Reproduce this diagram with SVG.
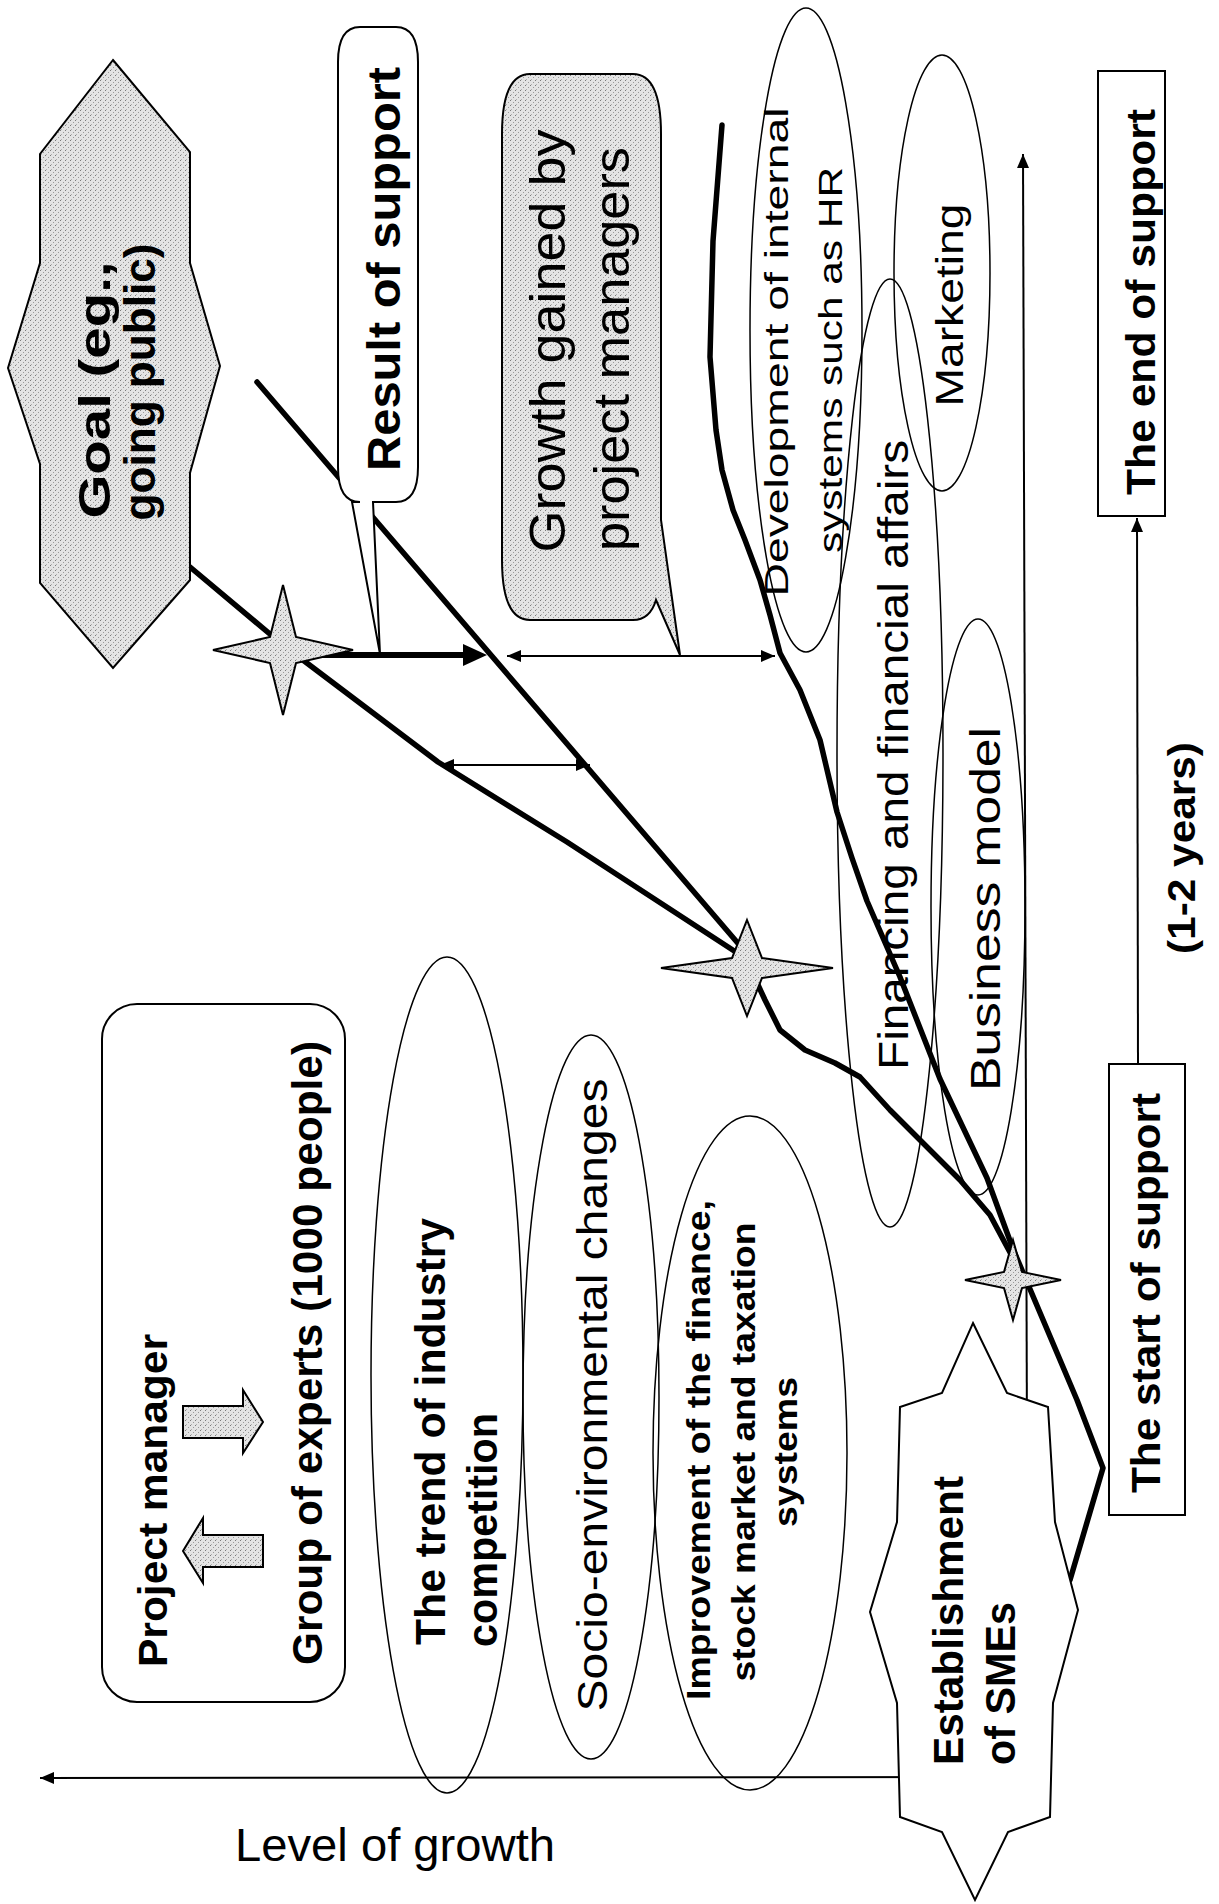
<svg xmlns="http://www.w3.org/2000/svg" width="1219" height="1904" viewBox="0 0 1219 1904">
<style>
.b{font-family:"Liberation Sans",Arial,sans-serif;font-weight:bold;fill:#000}
.r{font-family:"Liberation Sans",Arial,sans-serif;font-weight:normal;fill:#000}
.ell{fill:none;stroke:#000;stroke-width:1.5}
.box{fill:#fff;stroke:#000;stroke-width:2}
.gray{fill:url(#dots);stroke:#000;stroke-width:2}
.thick{fill:none;stroke:#000;stroke-width:5.5;stroke-linejoin:round;stroke-linecap:round}
.thin{fill:none;stroke:#000;stroke-width:2}
</style>
<defs>
<pattern id="dots" width="5" height="5" patternUnits="userSpaceOnUse">
<rect width="5" height="5" fill="#e4e4e4"/>
<rect x="0" y="0" width="1" height="1" fill="#7a7a7a"/>
<rect x="3" y="2" width="1" height="1" fill="#999"/>
<rect x="1" y="4" width="1" height="1" fill="#b0b0b0"/>
</pattern>
<marker id="ah" viewBox="0 0 14 12" refX="14" refY="6" markerWidth="14" markerHeight="12" markerUnits="userSpaceOnUse" orient="auto-start-reverse">
<path d="M0,0 L14,6 L0,12 Z" fill="#000"/>
</marker>
<marker id="ahT" viewBox="0 0 24 22" refX="1" refY="11" markerWidth="24" markerHeight="22" markerUnits="userSpaceOnUse" orient="auto">
<path d="M0,0 L24,11 L0,22 Z" fill="#000"/>
</marker>
</defs>
<rect width="1219" height="1904" fill="#fff"/>

<g id="node-trend">
<ellipse class="ell" cx="447" cy="1375" rx="76" ry="418"/>
<text class="b" font-size="42" transform="translate(445,1645) rotate(-90)" textLength="427" lengthAdjust="spacingAndGlyphs">The trend of industry</text>
<text class="b" font-size="42" transform="translate(497,1647) rotate(-90)" textLength="234" lengthAdjust="spacingAndGlyphs">competition</text>
</g>
<g id="node-socio">
<ellipse class="ell" cx="591" cy="1397" rx="68" ry="362"/>
<text class="r" font-size="42" text-anchor="middle" transform="translate(607,1395) rotate(-90)" textLength="633" lengthAdjust="spacingAndGlyphs">Socio-environmental changes</text>
</g>
<g id="node-improvement">
<ellipse class="ell" cx="750" cy="1453" rx="97" ry="337"/>
<text class="b" font-size="33" text-anchor="middle" transform="translate(710,1450) rotate(-90)" textLength="500" lengthAdjust="spacingAndGlyphs">Improvement of the finance,</text>
<text class="b" font-size="33" text-anchor="middle" transform="translate(755,1452) rotate(-90)" textLength="459" lengthAdjust="spacingAndGlyphs">stock market and taxation</text>
<text class="b" font-size="33" text-anchor="middle" transform="translate(797,1452) rotate(-90)" textLength="150" lengthAdjust="spacingAndGlyphs">systems</text>
</g>
<g id="node-development">
<ellipse class="ell" cx="806" cy="330" rx="56" ry="322"/>
<text class="r" font-size="33" text-anchor="middle" transform="translate(788,352) rotate(-90)" textLength="489" lengthAdjust="spacingAndGlyphs">Development of internal</text>
<text class="r" font-size="33" text-anchor="middle" transform="translate(842,360) rotate(-90)" textLength="386" lengthAdjust="spacingAndGlyphs">systems such as HR</text>
</g>
<g id="node-marketing">
<ellipse class="ell" cx="942" cy="273" rx="48" ry="218"/>
<text class="r" font-size="38" text-anchor="middle" transform="translate(963,305) rotate(-90)" textLength="203" lengthAdjust="spacingAndGlyphs">Marketing</text>
</g>
<g id="node-financing">
<ellipse class="ell" cx="890" cy="753" rx="53" ry="474"/>
<text class="r" font-size="42" text-anchor="middle" transform="translate(908,755) rotate(-90)" textLength="630" lengthAdjust="spacingAndGlyphs">Financing and financial affairs</text>
</g>
<g id="node-business">
<ellipse class="ell" cx="978" cy="907" rx="47" ry="288"/>
<text class="r" font-size="42" text-anchor="middle" transform="translate(1000,909) rotate(-90)" textLength="364" lengthAdjust="spacingAndGlyphs">Business model</text>
</g>

<g id="connectors">
<line class="thin" x1="1030" y1="1777" x2="40" y2="1778" marker-end="url(#ah)"/>
<line class="thin" x1="1028" y1="1777" x2="1023" y2="154" marker-end="url(#ah)"/>
<line class="thin" x1="1138" y1="1064" x2="1137" y2="518" marker-end="url(#ah)"/>
<polyline class="thick" points="722,125 713,241 710,357 716,430 722,470 733,510 745,540 760,580 770,615 780,653 800,690 820,740 837,812 852,858 867,901 900,977 940,1079 987,1178 1013,1249 1077,1400 1103,1468 1070,1580"/>
<polyline class="thick" points="752,972 765,1000 780,1030 805,1050 835,1063 860,1077 890,1110 920,1140 960,1180 990,1215 1013,1258"/>
<polyline class="thick" points="190,567 283,645 438,762 567,842 745,958"/>
<line class="thick" x1="257" y1="382" x2="748" y2="955"/>
<line x1="283" y1="655" x2="464" y2="655" stroke="#000" stroke-width="6" marker-end="url(#ahT)"/>
<line class="thin" x1="507" y1="656" x2="775" y2="656" marker-start="url(#ah)" marker-end="url(#ah)"/>
<line class="thin" x1="440" y1="765" x2="590" y2="765" marker-start="url(#ah)" marker-end="url(#ah)"/>
</g>

<g id="node-goal">
<polygon class="gray" points="113,60 190,152 190,263 220,366 190,473 190,580 113,668 40,583 40,464 8,368 40,263 40,154"/>
<text class="b" font-size="44" text-anchor="middle" transform="translate(110,390) rotate(-90)" textLength="257" lengthAdjust="spacingAndGlyphs">Goal (eg.,</text>
<text class="b" font-size="44" text-anchor="middle" transform="translate(155,382) rotate(-90)" textLength="277" lengthAdjust="spacingAndGlyphs">going public)</text>
</g>
<g id="node-result">
<path class="box" d="M360,27 H396 Q418,27 418,62 V467 Q418,502 396,502 H373 L380,654 L352,502 H360 Q338,502 338,467 V62 Q338,27 360,27 Z"/>
<text class="b" font-size="46" text-anchor="middle" transform="translate(400,269) rotate(-90)" textLength="404" lengthAdjust="spacingAndGlyphs">Result of support</text>
</g>
<g id="node-growth">
<path class="gray" d="M530,74 H633 Q661,74 661,134 V520 L680,655 L656,600 Q650,620 633,620 H530 Q502,620 502,560 V134 Q502,74 530,74 Z"/>
<text class="r" font-size="50" text-anchor="middle" transform="translate(565,341) rotate(-90)" textLength="423" lengthAdjust="spacingAndGlyphs">Growth gained by</text>
<text class="r" font-size="50" text-anchor="middle" transform="translate(629,349) rotate(-90)" textLength="404" lengthAdjust="spacingAndGlyphs">project managers</text>
</g>
<g id="node-end">
<rect class="box" x="1098" y="71" width="67" height="445"/>
<text class="b" font-size="40" text-anchor="middle" transform="translate(1155,302) rotate(-90)" textLength="386" lengthAdjust="spacingAndGlyphs">The end of support</text>
</g>
<g id="node-years">
<text class="b" font-size="38" text-anchor="middle" transform="translate(1195,848) rotate(-90)" textLength="212" lengthAdjust="spacingAndGlyphs">(1-2 years)</text>
</g>
<g id="node-start">
<rect class="box" x="1109" y="1064" width="76" height="451"/>
<text class="b" font-size="40" text-anchor="middle" transform="translate(1160,1293) rotate(-90)" textLength="400" lengthAdjust="spacingAndGlyphs">The start of support</text>
</g>
<g id="node-establishment">
<polygon class="box" points="973,1323 1007,1393 1048,1407 1055,1522 1078,1610 1053,1703 1050,1817 1008,1832 975,1900 942,1832 900,1817 897,1703 870,1612 897,1522 900,1407 942,1393"/>
<text class="b" font-size="42" transform="translate(963,1765) rotate(-90)" textLength="289" lengthAdjust="spacingAndGlyphs">Establishment</text>
<text class="b" font-size="42" transform="translate(1015,1765) rotate(-90)" textLength="163" lengthAdjust="spacingAndGlyphs">of SMEs</text>
</g>
<g id="node-experts">
<rect class="box" x="102" y="1004" width="243" height="698" rx="35" ry="35"/>
<text class="b" font-size="40" transform="translate(167,1667) rotate(-90)" textLength="333" lengthAdjust="spacingAndGlyphs">Project manager</text>
<text class="b" font-size="42" transform="translate(322,1665) rotate(-90)" textLength="624" lengthAdjust="spacingAndGlyphs">Group of experts (1000 people)</text>
<polygon class="gray" points="263,1535 203,1535 203,1518 183,1551 203,1583 203,1567 263,1567"/>
<polygon class="gray" points="183,1406 243,1406 243,1390 263,1422 243,1453 243,1438 183,1438"/>
</g>
<g id="node-star-goal">
<path class="gray" d="M283,585 L296,637 L353,650 L296,663 L283,715 L270,663 L213,650 L270,637 Z"/>
</g>
<g id="node-star-mid">
<path class="gray" d="M747,920 L762,958 L833,968 L762,978 L747,1016 L732,978 L661,968 L732,958 Z"/>
</g>
<g id="node-star-start">
<path class="gray" d="M1013,1240 L1022,1272 L1061,1280 L1022,1288 L1013,1320 L1004,1288 L965,1280 L1004,1272 Z"/>
</g>
<g id="node-level">
<text class="r" font-size="47" x="235" y="1861" textLength="320" lengthAdjust="spacingAndGlyphs">Level of growth</text>
</g>
</svg>
